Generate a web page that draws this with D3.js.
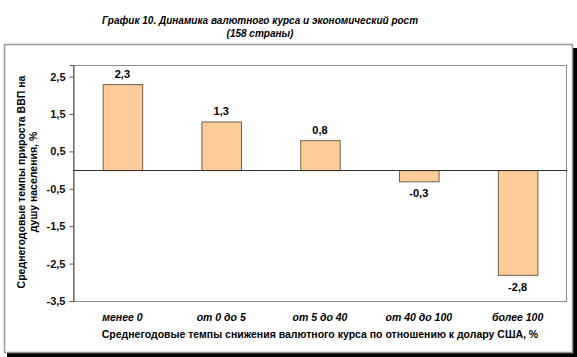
<!DOCTYPE html>
<html><head><meta charset="utf-8">
<script src="https://cdn.jsdelivr.net/npm/d3@7"></script>
<style>body{margin:0;background:#fff}svg{display:block;font-family:"Liberation Sans",Arial,sans-serif}</style>
</head><body>
<svg id="c" width="577" height="357"></svg>
<script>
const categories = ["менее 0", "от 0 до 5", "от 5 до 40", "от 40 до 100", "более 100"];
const values = [2.3, 1.3, 0.8, -0.3, -2.8];
const valueLabels = ["2,3", "1,3", "0,8", "-0,3", "-2,8"];
const yTicks = [2.5, 1.5, 0.5, -0.5, -1.5, -2.5, -3.5];
const titleLines = ["График 10. Динамика валютного курса и экономический рост", "(158 страны)"];
const yTitleLines = ["Среднегодовые темпы прироста ВВП на", "душу населения, %"];
const xTitle = "Среднегодовые темпы снижения валютного курса по отношению к долару США, %";

const svg = d3.select("#c");
const plot = {l: 73, t: 65, r: 567, b: 301};

// shadow + frame
svg.append("rect").attr("x", 7).attr("y", 48).attr("width", 570).attr("height", 309).attr("fill", "#000");
svg.append("rect").attr("x", 4.5).attr("y", 44.5).attr("width", 568).attr("height", 308)
  .attr("fill", "#fff").attr("stroke", "#9a9a9a").attr("stroke-width", 1.5);

// title
svg.append("g").selectAll("text").data(titleLines).join("text")
  .attr("x", 260).attr("y", (d, i) => 24 + i * 12.5)
  .attr("text-anchor", "middle").attr("font-size", 10).attr("font-weight", "bold").attr("font-style", "italic")
  .text(d => d);

const x = d3.scaleBand().domain(categories).range([plot.l, plot.r]).paddingInner(0.6).paddingOuter(0.3);
const y = d3.scaleLinear().domain([-3.5, 2.81]).range([plot.b, plot.t]);

// plot border
svg.append("rect").attr("x", plot.l + 0.5).attr("y", plot.t + 0.5).attr("width", plot.r - plot.l - 1).attr("height", plot.b - plot.t)
  .attr("fill", "#fff").attr("stroke", "#8c8c8c").attr("stroke-width", 1);

// y axis
const yAxis = svg.append("g").attr("transform", `translate(${plot.l + 0.5},0)`)
  .call(d3.axisLeft(y).tickValues(yTicks).tickSize(4).tickPadding(4)
    .tickFormat(d => d3.format(".1f")(d).replace(".", ",").replace("−", "-")));
yAxis.select(".domain").attr("stroke", "#555");
yAxis.selectAll(".tick line").attr("stroke", "#555");
yAxis.selectAll("text").attr("font-size", 11).attr("font-weight", "bold").attr("fill", "#111")
  .attr("font-family", "Liberation Sans, Arial, sans-serif");

// bars
const data = categories.map((c, i) => ({c, v: values[i], lab: valueLabels[i]}));
svg.append("g").selectAll("rect").data(data).join("rect")
  .attr("x", d => x(d.c) + 0.5).attr("width", x.bandwidth())
  .attr("y", d => y(Math.max(0, d.v)) + 0.5).attr("height", d => Math.abs(y(d.v) - y(0)))
  .attr("fill", "#ffcc99").attr("stroke", "#6e6050").attr("stroke-width", 1);

// zero line
svg.append("line").attr("x1", plot.l).attr("x2", plot.r).attr("y1", Math.round(y(0)) + 0.5).attr("y2", Math.round(y(0)) + 0.5)
  .attr("stroke", "#333").attr("stroke-width", 1);

// value labels
svg.append("g").selectAll("text").data(data).join("text")
  .attr("x", d => x(d.c) + x.bandwidth() / 2)
  .attr("y", d => d.v >= 0 ? y(d.v) - 6 : y(d.v) + 16)
  .attr("text-anchor", "middle").attr("font-size", 11).attr("font-weight", "bold")
  .text(d => d.lab);

// category labels
svg.append("g").selectAll("text").data(categories).join("text")
  .attr("x", d => x(d) + x.bandwidth() / 2).attr("y", 321)
  .attr("text-anchor", "middle").attr("font-size", 10.5).attr("font-weight", "bold").attr("font-style", "italic")
  .text(d => d);

// x title
svg.append("text").attr("x", (plot.l + plot.r) / 2).attr("y", 338)
  .attr("text-anchor", "middle").attr("font-size", 10.5).attr("font-weight", "bold").text(xTitle);

// y title
svg.append("g").attr("transform", `translate(0,${(plot.t + plot.b) / 2 - 1}) rotate(-90)`)
  .selectAll("text").data(yTitleLines).join("text")
  .attr("x", 0).attr("y", (d, i) => 24.5 + i * 12.5)
  .attr("text-anchor", "middle").attr("font-size", 10.5).attr("font-weight", "bold").text(d => d);
</script>
</body></html>
